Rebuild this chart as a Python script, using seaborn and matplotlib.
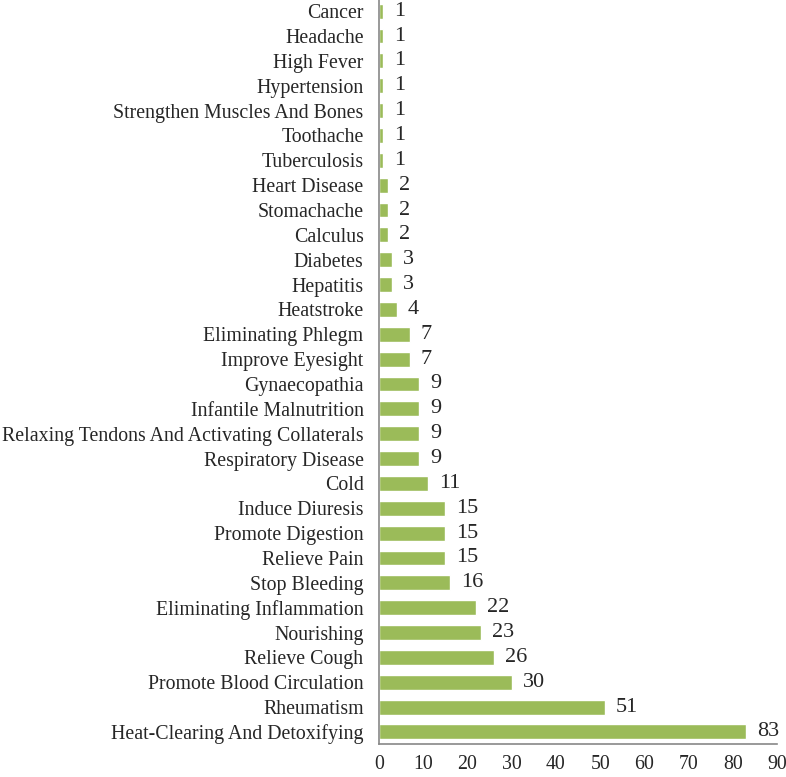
import matplotlib
matplotlib.use("Agg")
import matplotlib.pyplot as plt
import pandas as pd
import seaborn as sns

# categories from top to bottom
categories = [
    "Cancer", "Headache", "High Fever", "Hypertension",
    "Strengthen Muscles And Bones", "Toothache", "Tuberculosis",
    "Heart Disease", "Stomachache", "Calculus", "Diabetes", "Hepatitis",
    "Heatstroke", "Eliminating Phlegm", "Improve Eyesight", "Gynaecopathia",
    "Infantile Malnutrition", "Relaxing Tendons And Activating Collaterals",
    "Respiratory Disease", "Cold", "Induce Diuresis", "Promote Digestion",
    "Relieve Pain", "Stop Bleeding", "Eliminating Inflammation", "Nourishing",
    "Relieve Cough", "Promote Blood Circulation", "Rheumatism",
    "Heat-Clearing And Detoxifying",
]
counts = [1, 1, 1, 1, 1, 1, 1, 2, 2, 2, 3, 3, 4, 7, 7, 9, 9, 9, 9, 11,
          15, 15, 15, 16, 22, 23, 26, 30, 51, 83]
xticks = [0, 10, 20, 30, 40, 50, 60, 70, 80, 90]

df = pd.DataFrame({"category": categories, "count": counts})

sns.set_style("white")
plt.rcParams['font.family'] = ['Liberation Serif', 'DejaVu Serif']

fig = plt.figure(figsize=(7.86, 7.77), dpi=100)
ax = fig.add_axes([0.482, 0.042, 0.507, 0.958])

sns.barplot(data=df, x="count", y="category", color="#9BBB59",
            saturation=1, width=0.6, orient="h", ax=ax)

for i, v in enumerate(counts):
    ax.text(v + 2.5, i, str(v), va="center", ha="left", fontsize=16)

ax.set_xlim(0, 90)
ax.set_ylim(len(categories) - 0.5, -0.45)
ax.set_xticks(xticks)
ax.set_xlabel("")
ax.set_ylabel("")
ax.tick_params(axis="both", length=0, labelsize=14.3)
ax.tick_params(axis="x", pad=8)
ax.tick_params(axis="y", pad=11)
for s in ["top", "right"]:
    ax.spines[s].set_visible(False)
for s in ["left", "bottom"]:
    ax.spines[s].set_color("#888888")
    ax.spines[s].set_linewidth(1.2)

fig.savefig("out.png", dpi=100)
